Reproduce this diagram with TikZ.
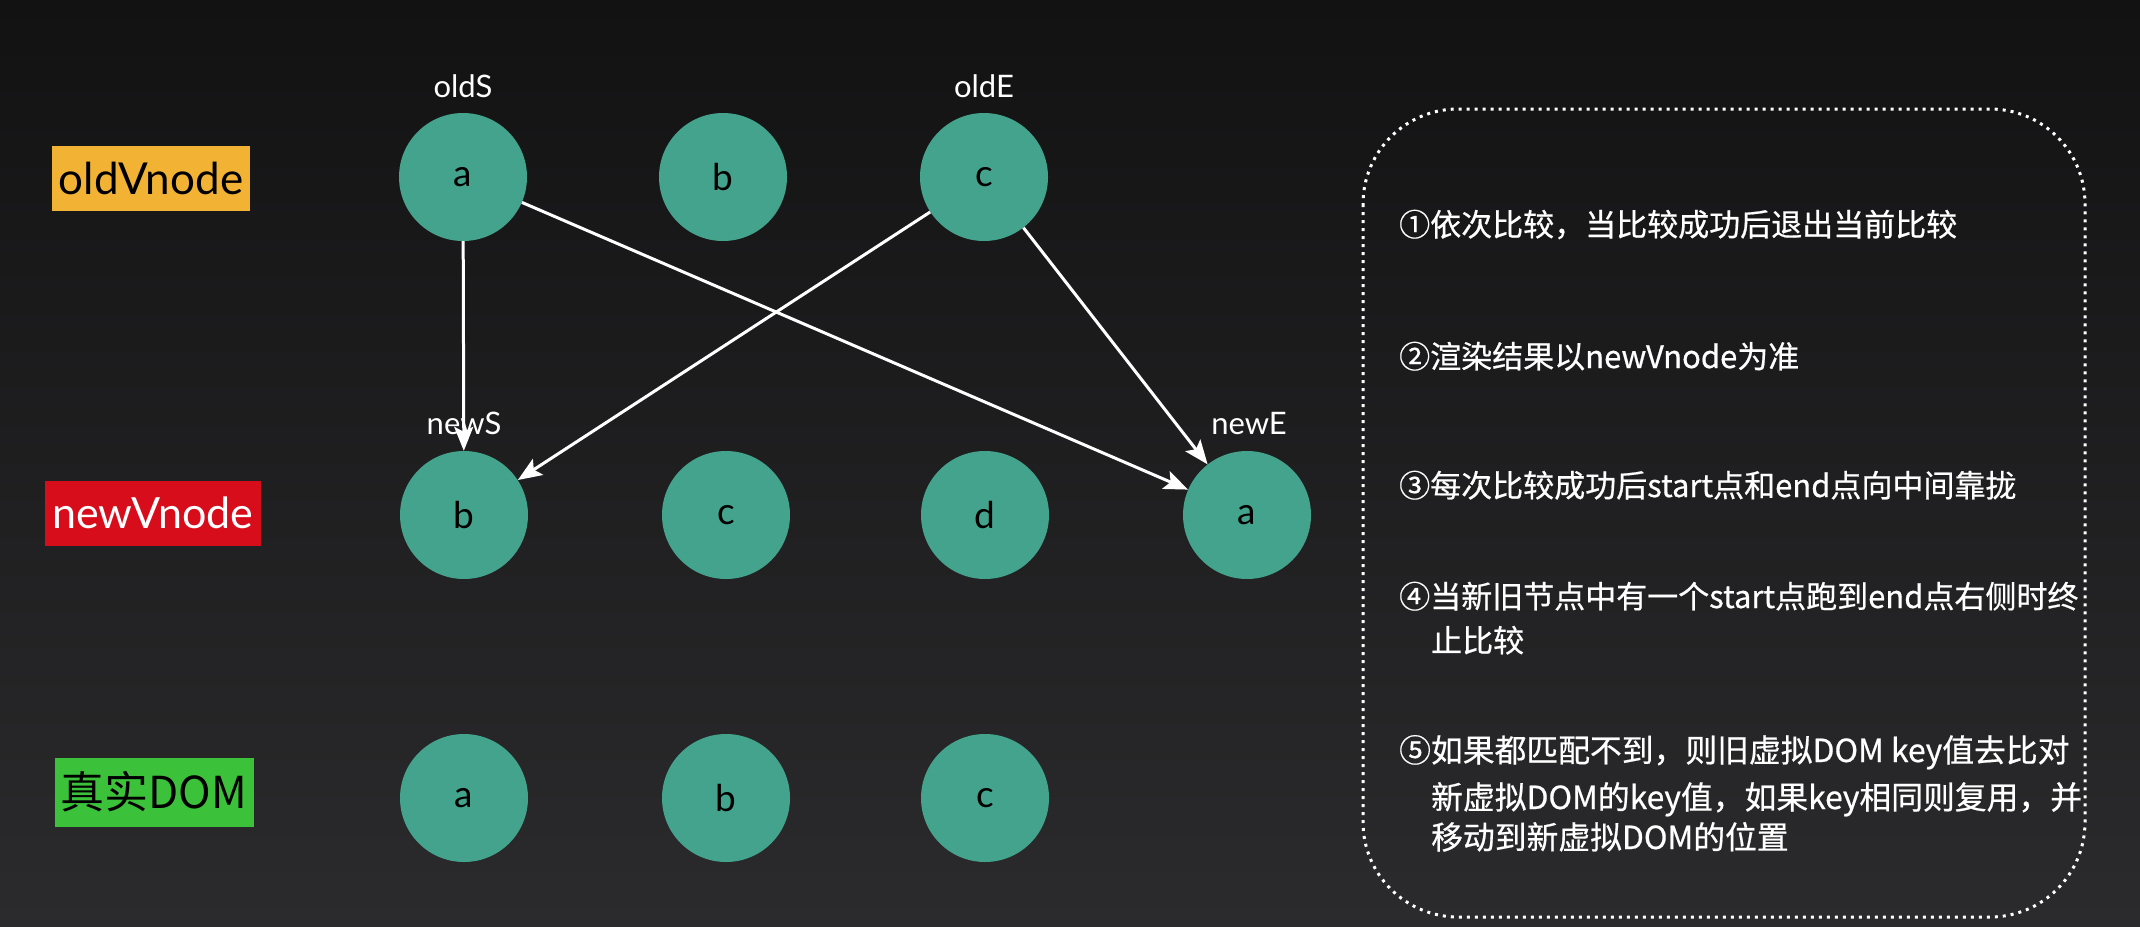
\documentclass[tikz,border=0pt]{standalone}
\usepackage{fontspec}
\setmainfont{Lato}
\newfontfamily\cjk[FakeBold=0.6]{Noto Sans CJK SC}
\newfontfamily\cjktag{Noto Sans CJK SC}
\usetikzlibrary{arrows.meta}
\definecolor{bgtop}{HTML}{121213}
\definecolor{bgbot}{HTML}{2B2A2C}
\definecolor{nodeteal}{HTML}{43A38C}
\definecolor{tagorange}{HTML}{F2B233}
\definecolor{tagred}{HTML}{D80D1B}
\definecolor{taggreen}{HTML}{3CC23A}
\tikzset{
  vn/.style={circle, fill=nodeteal, minimum size=128pt, inner sep=0pt, text=black, font=\fontsize{37}{42}\selectfont},
  ptr/.style={text=white, font=\fontsize{31}{36}\selectfont},
  tag/.style={minimum height=65pt, inner sep=0pt, font=\fontsize{44}{50}\selectfont},
  arr/.style={draw=white, line width=3pt, -{Stealth[length=24pt,width=19pt,inset=5pt]}},
  note/.style={text=white, anchor=base west, inner sep=0pt, font=\cjk\fontsize{31}{40}\selectfont},
  wide/.style={font=\cjk\fontsize{31.8}{40}\selectfont},
}
\begin{document}
\begin{tikzpicture}[x=1pt,y=-1pt]
\useasboundingbox (0,0) rectangle (2140,926);
\shade[top color=bgtop,bottom color=bgbot] (0,0) rectangle (2140,926);

% row tags
\node[tag, fill=tagorange, minimum width=198pt, text=black] (tOld) at (151,178) {oldVnode};
\node[tag, fill=tagred, minimum width=216pt, text=white, font=\fontsize{43}{48}\selectfont] (tNew) at (153,513) {newVnode};
\node[tag, fill=taggreen, minimum width=199pt, minimum height=69pt, text=black, font=\cjktag\fontsize{44}{50}\selectfont] (tDom) at (154,792) {真实DOM};

% old vnodes
\node[vn] (oa) at (463,177) {a};
\node[vn] (ob) at (723,177) {b};
\node[vn] (oc) at (984,177) {c};
% new vnodes
\node[vn] (nb) at (464,515) {b};
\node[vn] (nc) at (726,515) {c};
\node[vn] (nd) at (985,515) {d};
\node[vn] (na) at (1247,515) {a};
% real dom
\node[vn] (da) at (464,798) {a};
\node[vn] (db) at (726,798) {b};
\node[vn] (dc) at (985,798) {c};

% pointer labels
\node[ptr] (lOldS) at (463,86) {oldS};
\node[ptr] (lOldE) at (984,86) {oldE};
\node[ptr] (lNewS) at (464,423) {newS};
\node[ptr] (lNewE) at (1249,423) {newE};

% arrows
\draw[arr] (oa) -- (nb);
\draw[arr] (oa) -- (na);
\draw[arr] (oc) -- (nb);
\draw[arr] (oc) -- (na);

% dotted box
\draw[white, line width=3pt, dash pattern=on 3pt off 5pt, rounded corners=95pt] (1363,109) rectangle (2085,917);

% notes
\node[note] (n1) at (1399,236) {①依次比较，当比较成功后退出当前比较};
\node[note] (n2) at (1399,368) {②渲染结果以newVnode为准};
\node[note] (n3) at (1399,497) {③每次比较成功后start点和end点向中间靠拢};
\node[note] (n4a) at (1399,608) {④当新旧节点中有一个start点跑到end点右侧时终};
\node[note] (n4b) at (1431,652) {止比较};
\node[note, wide] (n5a) at (1399,762) {⑤如果都匹配不到，则旧虚拟DOM key值去比对};
\node[note, wide] (n5b) at (1431,809) {新虚拟DOM的key值，如果key相同则复用，并};
\node[note, wide] (n5c) at (1431,849) {移动到新虚拟DOM的位置};
\end{tikzpicture}
\end{document}
